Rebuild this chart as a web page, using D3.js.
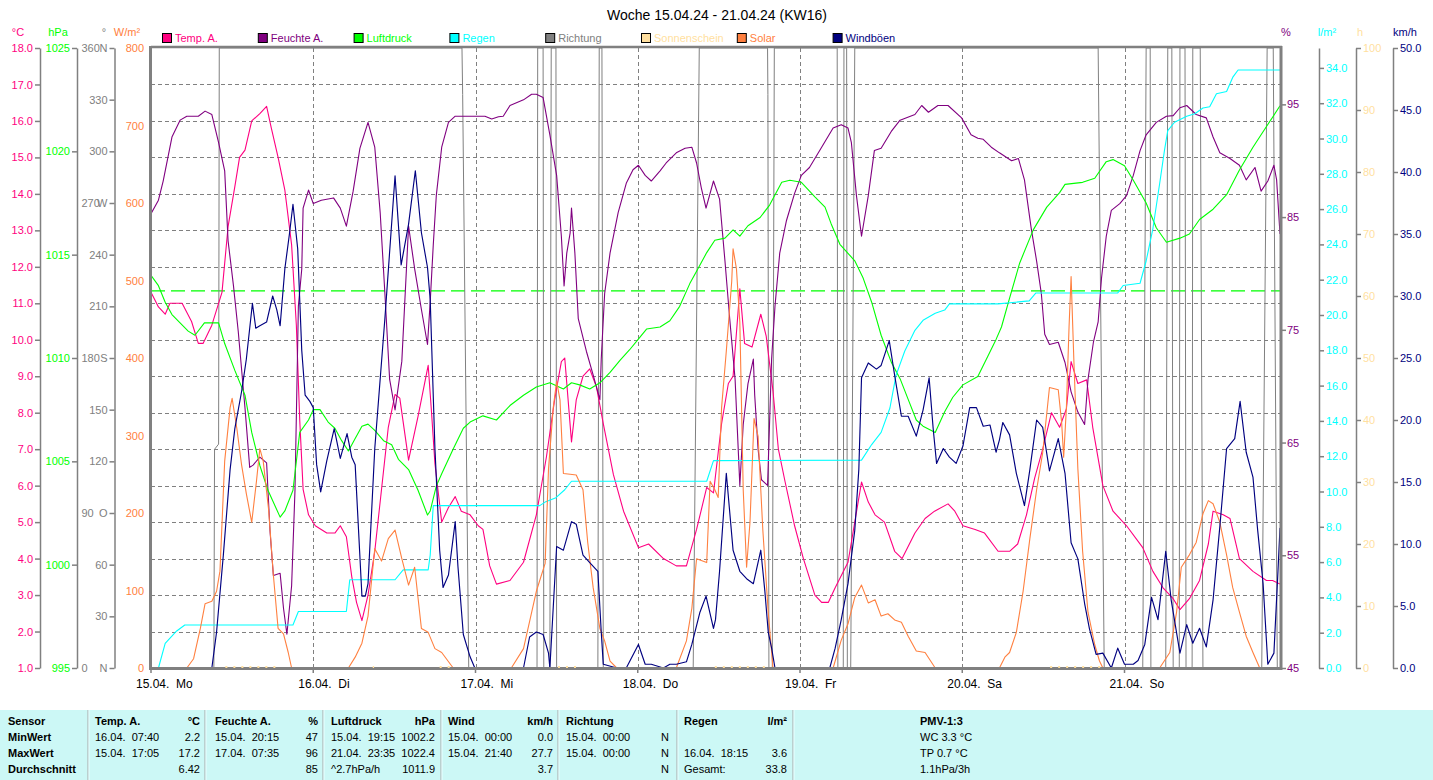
<!DOCTYPE html>
<html><head><meta charset="utf-8">
<script src="https://cdn.jsdelivr.net/npm/d3@7/dist/d3.min.js"></script>
<style>
html,body{margin:0;padding:0;background:#fff;}
svg text{font-family:"Liberation Sans",Arial,sans-serif;}
</style></head>
<body><svg id="chart" width="1433" height="780"></svg>
<script>
// ---------------- DATA (hours since 15.04. 00:00, value) ----------------
const title = "Woche 15.04.24 - 21.04.24 (KW16)";
const dayLabels = ["15.04.  Mo","16.04.  Di","17.04.  Mi","18.04.  Do","19.04.  Fr","20.04.  Sa","21.04.  So"];
const legendNames = ["Temp. A.","Feuchte A.","Luftdruck","Regen","Richtung","Sonnenschein","Solar","Windböen"];

const temp = [[0,11.3],[1.1,10.9],[2.1,10.7],[2.8,11.0],[3.8,11.0],[4.6,11.0],[6.0,10.5],[7.0,9.9],[7.7,9.9],[9.0,10.4],[10.5,11.3],[11.4,13.1],[12.4,14.2],[13.1,15.0],[13.9,15.2],[14.9,16.0],[16.1,16.2],[17.1,16.4],[17.8,15.8],[18.8,15.0],[19.8,14.1],[20.8,12.6],[21.5,10.4],[22.0,7.8],[22.5,5.9],[23.3,5.2],[24.3,4.9],[26.0,4.7],[27.2,4.7],[28.0,4.9],[28.9,4.6],[29.7,3.5],[30.4,2.8],[31.2,2.3],[32.1,3.0],[33.1,4.2],[34.1,5.9],[35.1,7.6],[36.1,8.5],[36.8,8.4],[38.1,6.7],[39.5,7.9],[41.0,9.3],[41.5,8.0],[42.0,6.6],[43.0,5.0],[44.0,5.4],[45.0,5.7],[45.9,5.3],[47.2,5.2],[48.4,4.9],[49.1,4.8],[50.1,3.8],[51.1,3.3],[53.1,3.4],[55.1,3.9],[57.0,5.2],[58.5,6.8],[59.7,8.35],[60.7,9.4],[61.2,9.5],[62.2,7.2],[62.9,8.35],[63.9,9.0],[64.9,9.2],[65.9,8.7],[66.9,7.7],[68.4,6.3],[69.9,5.3],[72.1,4.3],[73.6,4.4],[75.8,4.0],[77.7,3.8],[79.2,3.8],[80.7,4.8],[82.2,5.95],[83.2,5.8],[84.4,7.7],[85.4,8.8],[86.1,9.0],[87.1,11.4],[87.8,9.9],[88.9,9.8],[90.2,10.7],[91.0,10.1],[92.0,8.6],[92.8,7.0],[93.8,6.1],[95.2,4.9],[96.5,4.0],[98.2,3.0],[99.2,2.8],[100.2,2.8],[101.2,3.2],[103.1,3.9],[104.1,5.0],[105.1,6.1],[106.1,5.55],[107.1,5.2],[108.5,5.0],[110.0,4.2],[111.1,4.0],[113.0,4.7],[114.5,5.1],[115.9,5.3],[117.9,5.5],[118.9,5.3],[120.1,4.9],[121.9,4.8],[123.3,4.7],[125.3,4.2],[127.0,4.2],[128.2,4.4],[129.5,5.2],[130.7,6.2],[131.9,7.0],[133.2,8.0],[134.4,7.6],[135.4,8.1],[136.1,9.4],[137.1,8.8],[138.4,8.9],[139.3,7.6],[140.8,6.0],[142.3,5.3],[144.3,4.9],[146.7,4.3],[148.2,3.65],[149.7,3.2],[151.2,2.9],[152.2,2.6],[153.6,2.9],[155.1,3.4],[156.4,4.4],[157.1,5.3],[158.6,5.2],[159.6,5.1],[161.0,4.0],[163.0,3.65],[165.0,3.4],[165.9,3.4],[167,3.3]];

const humidity = [[0,85.3],[1.1,86.5],[1.8,88.2],[3.1,92.1],[4.3,93.6],[5.3,93.95],[7.0,93.95],[8.0,94.4],[9.0,94.1],[10.0,91.6],[10.9,89.1],[11.4,82.9],[12.2,78.9],[12.9,74.9],[13.9,68.1],[14.6,62.8],[15.1,63.0],[16.1,63.7],[17.1,63.2],[17.6,57.2],[18.1,53.2],[19.1,53.4],[19.6,50.3],[20.1,48.0],[20.8,52.3],[21.3,60.8],[21.8,77.1],[22.3,80.4],[22.5,85.8],[23.3,87.4],[24.0,86.2],[25.2,86.5],[27.0,86.7],[28.0,85.8],[28.9,84.2],[29.9,87.3],[30.9,91.1],[32.1,93.4],[33.1,91.2],[33.9,85.4],[34.6,78.2],[35.3,70.6],[36.1,67.9],[37.1,72.2],[37.8,80.6],[38.1,84.2],[39.0,80.4],[40.0,76.8],[40.9,73.7],[41.3,77.5],[41.75,82.5],[42.2,86.9],[43.0,91.2],[44.0,93.4],[45.0,93.95],[49.4,93.95],[50.4,93.7],[51.4,93.9],[52.1,93.95],[53.1,94.9],[55.1,95.4],[56.3,95.9],[57.0,95.9],[58.0,95.6],[59.0,92.3],[60.0,88.7],[60.7,83.3],[61.1,78.9],[61.5,81.8],[62.0,83.6],[62.2,85.8],[62.7,81.8],[63.2,76.0],[64.4,73.1],[65.4,71.0],[66.4,68.8],[66.6,72.4],[67.1,78.2],[67.9,81.8],[69.1,85.4],[70.3,88.0],[71.3,89.2],[72.1,89.6],[73.1,88.7],[74.0,88.2],[75.3,89.1],[76.2,89.8],[77.7,90.7],[79.0,91.1],[80.0,91.2],[80.7,89.8],[81.4,87.6],[82.1,85.8],[83.2,88.2],[84.1,86.6],[84.9,81.1],[85.6,76.0],[86.4,70.6],[87.1,61.2],[87.6,66.6],[88.3,70.2],[89.1,72.4],[89.3,69.2],[89.8,64.4],[90.3,61.7],[91.2,61.2],[91.8,72.4],[92.3,77.1],[93.0,81.8],[94.0,84.7],[95.2,87.1],[96.2,88.7],[97.4,89.4],[99.2,91.2],[100.9,92.9],[102.1,93.2],[103.1,92.9],[103.6,91.6],[104.35,86.9],[105.1,83.3],[106.1,86.9],[107.0,90.9],[108.0,91.1],[109.5,92.6],[110.8,93.6],[113.0,94.1],[114.0,94.9],[115.0,94.3],[116.4,94.9],[117.9,94.9],[119.9,93.8],[121.3,92.3],[122.3,92.0],[123.1,91.9],[124.3,91.2],[125.5,90.7],[127.3,90.0],[128.3,90.2],[129.2,88.3],[130.2,84.0],[131.0,81.1],[131.7,78.2],[132.2,74.6],[132.9,73.7],[134.2,73.9],[135.2,72.1],[136.1,69.5],[137.1,67.7],[138.1,66.6],[138.6,70.6],[139.4,73.9],[140.1,75.7],[140.6,79.6],[141.3,83.3],[142.05,85.6],[143.3,86.2],[144.3,86.9],[145.3,88.7],[146.3,90.9],[147.2,92.3],[148.7,93.4],[150.2,93.95],[151.2,94.0],[152.2,94.7],[153.2,94.9],[154.6,94.1],[156.1,93.8],[157.1,92.1],[158.1,90.7],[159.6,90.2],[161.0,89.6],[162.0,88.3],[163.3,89.4],[164.2,87.3],[165.2,88.2],[166.1,89.6],[166.5,88.3],[167,83.5]];

const pressure = [[0,1014.0],[1.1,1013.5],[2.1,1012.7],[3.1,1012.1],[4.3,1011.7],[5.5,1011.3],[6.5,1011.1],[7.9,1011.7],[9.0,1011.7],[10.0,1011.7],[10.9,1010.7],[12.4,1009.4],[13.9,1008.2],[14.9,1006.4],[16.1,1004.8],[17.3,1003.6],[19.1,1002.3],[19.8,1002.6],[21.0,1003.6],[22.0,1006.4],[23.3,1007.0],[24.0,1007.5],[25.0,1007.5],[26.2,1006.9],[27.2,1006.6],[28.2,1006.0],[29.2,1005.5],[30.2,1006.1],[31.2,1006.7],[32.1,1006.8],[33.1,1006.5],[34.4,1006.0],[35.6,1005.8],[36.6,1005.1],[38.1,1004.6],[39.5,1003.6],[40.9,1002.4],[41.3,1002.6],[42.2,1003.8],[43.0,1004.4],[44.7,1005.6],[46.2,1006.6],[47.2,1006.9],[49.1,1007.2],[51.1,1007.0],[53.1,1007.7],[55.1,1008.2],[57.0,1008.6],[59.0,1008.8],[61.0,1008.5],[62.2,1008.8],[63.4,1008.7],[64.9,1008.5],[66.4,1008.8],[67.9,1009.3],[69.4,1009.9],[70.8,1010.4],[72.3,1011.0],[73.3,1011.4],[75.3,1011.5],[76.75,1011.8],[78.2,1012.5],[79.7,1013.6],[80.7,1014.2],[82.2,1015.1],[83.4,1015.7],[84.9,1015.8],[86.1,1016.2],[87.1,1015.9],[88.3,1016.4],[90.1,1016.8],[91.5,1017.4],[93.3,1018.5],[94.5,1018.6],[96.2,1018.5],[98.2,1017.8],[99.7,1017.3],[100.6,1016.5],[101.9,1015.5],[104.1,1014.7],[105.3,1013.9],[106.6,1012.7],[108.0,1011.1],[109.5,1009.8],[110.8,1009.0],[112.0,1008.0],[113.2,1007.0],[114.2,1006.7],[116.0,1006.4],[117.4,1007.4],[118.6,1008.1],[120.1,1008.7],[122.3,1009.1],[123.8,1010.1],[125.0,1010.9],[125.8,1011.5],[127.0,1012.9],[128.5,1014.6],[130.5,1016.2],[132.5,1017.3],[134.4,1018.0],[135.2,1018.4],[137.8,1018.5],[139.6,1018.7],[141.3,1019.5],[142.3,1019.6],[144.0,1019.3],[145.3,1018.6],[147.2,1017.5],[148.7,1016.3],[150.2,1015.6],[152.2,1015.8],[153.6,1016.0],[155.1,1016.7],[157.1,1017.2],[159.1,1017.9],[161.0,1019.1],[163.0,1020.2],[165.0,1021.2],[167,1022.2]];
const pressureRef = 1013.25;

const rain = [[0,0],[1.1,0],[2.1,1.4],[3.8,2.1],[5.0,2.44],[21.0,2.44],[21.8,3.2],[28.9,3.2],[29.4,5.0],[36.1,5.0],[37.3,5.56],[41.0,5.56],[41.3,6.4],[41.75,9.2],[57.5,9.2],[58.3,9.4],[59.9,9.65],[61.2,10.1],[62.2,10.58],[82.2,10.58],[83.2,11.75],[105.1,11.78],[106.6,12.66],[108.0,13.35],[109.3,14.73],[110.2,16.58],[111.5,17.96],[113.0,19.13],[114.2,19.7],[116.0,20.1],[117.4,20.28],[118.1,20.63],[125.3,20.63],[129.9,20.8],[130.9,21.25],[143.0,21.25],[143.8,21.67],[146.3,21.8],[147.2,23.06],[148.2,24.9],[149.2,27.45],[149.9,29.3],[150.4,30.45],[151.4,30.92],[153.2,31.26],[154.4,31.4],[155.6,31.73],[156.6,31.8],[157.6,32.54],[159.1,32.66],[160.0,33.46],[160.8,33.88],[167,33.88]];

const direction = [[0,0],[9.3,0],[9.4,127],[10.0,130],[10.1,360],[46.0,360],[46.1,333],[47.0,0],[57.1,0],[57.2,360],[58.0,360],[58.1,0],[59.0,0],[59.2,360],[59.9,360],[60.0,0],[66.1,0],[66.3,360],[66.7,360],[66.9,0],[80.2,0],[81.1,360],[91.2,360],[91.25,333],[91.4,0],[91.9,0],[92.2,360],[101.5,360],[101.6,0],[102.4,0],[102.5,360],[102.9,360],[103.0,0],[103.5,0],[104.1,360],[140.1,360],[141.0,0],[146.7,0],[147.2,360],[147.8,360],[147.9,0],[150.1,0],[150.4,360],[151.0,360],[151.2,0],[152.1,0],[152.2,360],[152.95,360],[153.1,0],[154.0,0],[154.1,360],[155.2,360],[155.6,0],[164.3,0],[165.1,360],[166.0,360],[166.6,0],[167,0]];

// Sonnenschein: 0 h throughout; periods where the (zero) line is drawn
const sunshine = [[11.0,0],[19.1,0],[null,null],[32.8,0],[33.0,0],[null,null],[42.7,0],[44.7,0],[null,null],[60.2,0],[63.0,0],[null,null],[83.4,0],[91.3,0],[null,null],[133.0,0],[140.4,0]];

const solar = [[0,0],[5.3,0],[6.3,12],[7.3,51],[8.0,83],[9.0,86],[9.7,99],[10.2,125],[10.9,267],[11.7,336],[12.0,348],[12.7,309],[13.4,262],[14.1,225],[14.9,188],[15.6,241],[16.1,283],[16.6,267],[17.4,204],[18.1,120],[18.8,51],[19.6,44],[20.3,20],[20.8,0],[29.2,0],[30.2,14],[31.2,32],[32.1,67],[33.1,154],[34.1,138],[35.1,167],[36.1,178],[37.1,141],[38.1,107],[39.0,130],[40.0,51],[41.0,46],[42.0,25],[43.0,20],[44.7,0],[53.3,0],[55.1,25],[57.0,99],[58.3,135],[58.8,257],[59.5,336],[60.0,370],[60.5,346],[61.0,251],[62.0,250],[62.9,249],[63.9,230],[64.6,162],[65.4,104],[66.4,51],[67.1,35],[67.9,9],[68.9,0],[77.7,0],[79.2,35],[80.0,77],[80.7,141],[82.2,136],[82.7,241],[83.4,230],[83.9,220],[84.4,336],[85.1,409],[85.9,499],[86.1,541],[86.6,515],[87.1,446],[87.6,230],[88.1,130],[88.6,188],[89.2,322],[89.8,299],[90.5,178],[91.3,72],[92.0,0],[100.9,0],[102.1,36],[103.1,57],[104.1,91],[105.1,107],[106.1,84],[107.1,88],[108.0,67],[109.0,70],[110.0,62],[111.0,59],[112.0,41],[113.2,22],[114.5,20],[116.0,0],[125.5,0],[126.3,14],[127.0,20],[128.0,46],[129.0,99],[130.0,167],[131.0,230],[131.9,278],[132.9,362],[134.2,359],[134.7,317],[135.0,272],[135.4,335],[135.8,441],[136.1,505],[136.5,399],[137.1,257],[137.8,151],[138.6,72],[139.6,30],[140.3,9],[140.8,0],[149.2,0],[150.7,20],[151.7,72],[152.4,130],[153.6,146],[154.6,162],[155.6,199],[156.4,216],[157.1,212],[158.1,188],[159.1,146],[160.0,104],[161.0,72],[162.0,41],[163.0,20],[164.0,0],[167,0]];

const wind = [[0,0],[9.0,0],[9.7,2.9],[10.7,9.1],[11.7,16.0],[12.4,19.3],[13.4,22.3],[14.1,24.9],[15.0,29.4],[15.5,27.4],[16.1,27.6],[17.1,27.9],[18.0,30.0],[18.6,28.9],[19.1,27.6],[19.8,32.2],[20.5,35.1],[21.0,37.4],[21.7,33.8],[22.3,25.6],[22.8,22.0],[23.5,21.5],[24.0,21.0],[24.5,16.4],[25.1,14.2],[26.0,16.7],[27.1,19.3],[28.0,16.9],[29.0,18.9],[29.7,17.0],[30.2,16.4],[31.2,5.8],[31.7,5.8],[32.1,6.8],[33.1,17.7],[34.6,28.2],[36.1,39.7],[37.0,32.5],[38.1,35.8],[39.1,40.1],[40.0,35.1],[40.9,32.3],[41.3,29.7],[42.0,17.7],[42.7,9.5],[43.2,6.5],[44.0,7.5],[45.0,11.8],[45.4,8.2],[46.2,2.7],[47.2,0.9],[47.9,0],[55.1,0],[56.0,2.5],[57.0,2.9],[58.0,2.7],[58.8,1.2],[59.0,0],[60.0,9.8],[61.0,9.5],[62.2,11.8],[62.9,11.6],[63.9,9.1],[64.9,8.5],[66.1,7.8],[66.6,2.9],[66.9,0.3],[68.9,0],[70.3,0],[72.1,1.9],[73.1,0.3],[74.0,0.3],[75.8,0],[76.75,0.3],[77.7,0.3],[79.2,0.5],[80.0,1.9],[81.2,4.5],[82.1,5.8],[83.2,3.2],[83.5,3.9],[84.1,7.8],[85.1,15.7],[86.1,9.5],[87.1,7.8],[88.1,7.2],[89.1,6.8],[90.2,9.5],[90.8,6.2],[91.3,2.9],[91.8,1.6],[92.3,0],[100.4,0],[101.2,1.6],[102.1,3.9],[103.1,6.8],[104.1,11.1],[104.7,16.0],[105.1,23.4],[106.1,24.6],[107.3,24.1],[108.0,24.4],[109.2,26.4],[110.0,23.6],[111.0,20.3],[112.0,20.3],[113.2,18.7],[114.2,20.8],[115.1,23.4],[115.7,19.3],[116.2,16.5],[117.2,17.7],[118.1,17.0],[119.1,16.5],[120.1,17.9],[121.1,21.0],[122.1,21.0],[123.1,19.5],[124.1,19.6],[125.0,17.4],[125.5,18.4],[126.0,19.8],[127.0,18.8],[128.0,15.7],[129.2,13.1],[130.0,16.0],[131.0,20.0],[131.9,19.4],[132.9,15.9],[134.2,18.5],[135.2,15.7],[136.1,10.1],[137.1,8.8],[138.1,5.2],[138.8,3.2],[139.8,1.1],[140.8,1.2],[142.05,0],[143.0,1.6],[144.0,0.3],[145.3,0.3],[146.0,0.6],[147.0,1.9],[148.0,5.7],[148.95,3.9],[150.1,9.4],[150.9,5.5],[152.2,1.2],[153.2,3.5],[154.1,2.0],[155.1,3.2],[156.1,1.7],[157.1,5.5],[158.1,11.4],[159.1,17.7],[160.3,18.5],[161.1,21.5],[162.0,17.4],[163.0,15.4],[163.7,11.1],[164.5,6.8],[165.2,0.3],[166.1,1.2],[166.7,7.8],[167,11.3]];

// axis tick values
const tempTicks = d3.range(1, 18.01, 1);
const pressTicks = [995,1000,1005,1010,1015,1020,1025];
const dirTicks = [0,30,60,90,120,150,180,210,240,270,300,330,360];
const dirLetters = {0:"N",90:"O",180:"S",270:"W",360:"N"};
const solarTicks = [0,100,200,300,400,500,600,700,800];
const humTicks = [45,55,65,75,85,95];
const rainTicks = d3.range(0, 34.01, 2);
const sunTicks = d3.range(0, 100.01, 10);
const windTicks = d3.range(0, 50.01, 5);

// table
const tableHeader = [["Sensor",""],["Temp. A.","°C"],["Feuchte A.","%"],["Luftdruck","hPa"],["Wind","km/h"],["Richtung",""],["Regen","l/m²"]];
const tableRows = [
  ["MinWert", ["16.04.  07:40","2.2"],["15.04.  20:15","47"],["15.04.  19:15","1002.2"],["15.04.  00:00","0.0"],["15.04.  00:00","N"],["",""]],
  ["MaxWert", ["15.04.  17:05","17.2"],["17.04.  07:35","96"],["21.04.  23:35","1022.4"],["15.04.  21:40","27.7"],["15.04.  00:00","N"],["16.04.  18:15","3.6"]],
  ["Durchschnitt", ["","6.42"],["","85"],["^2.7hPa/h","1011.9"],["","3.7"],["","N"],["Gesamt:","33.8"]]
];
const pmvTitle = "PMV-1:3";
const pmvLines = ["WC 3.3 °C","TP 0.7 °C","1.1hPa/3h"];

// ---------------- STYLE / LAYOUT ----------------
const C = {temp:"#ff0080", hum:"#800080", press:"#00ff00", rain:"#00ffff", dir:"#808080", sun:"#ffdf9f", solar:"#ff8040", wind:"#000080"};
const legendColors = [C.temp,C.hum,C.press,C.rain,C.dir,C.sun,C.solar,C.wind];
const X0=151, X1=1280, Y0=48, Y1=668;
const FONT='"Liberation Sans",Arial,sans-serif';
const svg = d3.select("#chart");

const x = d3.scaleLinear().domain([0,167]).range([X0,X1]);
const yT = d3.scaleLinear().domain([1,18]).range([Y1,Y0]);
const yP = d3.scaleLinear().domain([995,1025]).range([Y1,Y0]);
const yD = d3.scaleLinear().domain([0,360]).range([Y1,Y0]);
const yS = d3.scaleLinear().domain([0,800]).range([Y1,Y0]);
const yH = d3.scaleLinear().domain([45,100]).range([Y1,Y0]);
const yR = d3.scaleLinear().domain([0,620/17.65]).range([Y1,Y0]);
const ySun = d3.scaleLinear().domain([0,100]).range([Y1,Y0]);
const yW = d3.scaleLinear().domain([0,50]).range([Y1,Y0]);

// title
svg.append("text").attr("x",717).attr("y",20).attr("text-anchor","middle")
  .attr("font-size",14).attr("fill","#000").text(title);

// legend
legendNames.forEach((n,i)=>{
  const lx = 162 + i*95.8;
  svg.append("rect").attr("x",lx+0.5).attr("y",33.5).attr("width",9).attr("height",9)
    .attr("fill",legendColors[i]).attr("stroke","#000").attr("stroke-width",1);
  svg.append("text").attr("x",lx+13).attr("y",42).attr("font-size",11).attr("fill",legendColors[i]).text(n);
});

// grid
const grid = svg.append("g");
tempTicks.filter(v=>v>1 && v<18).forEach(v=>{
  grid.append("line").attr("x1",X0).attr("x2",X1).attr("y1",Math.round(yT(v))+0.5).attr("y2",Math.round(yT(v))+0.5)
    .attr("stroke","#808080").attr("stroke-dasharray","4,3");
});
d3.range(1,7).forEach(d=>{
  grid.append("line").attr("y1",Y0).attr("y2",Y1).attr("x1",Math.round(x(d*24))+0.5).attr("x2",Math.round(x(d*24))+0.5)
    .attr("stroke","#808080").attr("stroke-dasharray","4,3");
});
// reference pressure line
grid.append("line").attr("x1",X0).attr("x2",X1).attr("y1",yP(pressureRef)).attr("y2",yP(pressureRef))
  .attr("stroke",C.press).attr("stroke-width",1.3).attr("stroke-dasharray","14,6");

// clip
svg.append("clipPath").attr("id","clip").append("rect").attr("x",X0).attr("y",Y0-1).attr("width",X1-X0).attr("height",Y1-Y0+2);
const plot = svg.append("g").attr("clip-path","url(#clip)");
function draw(data, yScale, color, w){
  const line = d3.line().defined(d=>d[0]!==null).x(d=>x(d[0])).y(d=>yScale(d[1]));
  plot.append("path").datum(data).attr("d",line).attr("fill","none").attr("stroke",color)
    .attr("stroke-width",w||1.1).attr("stroke-linejoin","round");
}
draw(direction, yD, C.dir, 1);
draw(temp, yT, C.temp);
draw(humidity, yH, C.hum);
draw(pressure, yP, C.press);
draw(rain, yR, C.rain);
draw(solar, yS, C.solar);
draw(wind, yW, C.wind, 1.15);

// frame
svg.append("line").attr("x1",X0).attr("x2",1282).attr("y1",Y0-1).attr("y2",Y0-1).attr("stroke","#808080").attr("stroke-width",2.5);
svg.append("line").attr("x1",X0-1).attr("x2",1282).attr("y1",Y1+0.5).attr("y2",Y1+0.5).attr("stroke","#808080").attr("stroke-width",3);
svg.append("line").attr("x1",X0-0.5).attr("x2",X0-0.5).attr("y1",Y0-2).attr("y2",Y1+2).attr("stroke","#808080").attr("stroke-width",3);
svg.append("line").attr("x1",1281).attr("x2",1281).attr("y1",Y0-2).attr("y2",Y1+2).attr("stroke","#808080").attr("stroke-width",3);

// sunshine (zero) dots on the bottom
const sunLine = d3.line().defined(d=>d[0]!==null).x(d=>x(d[0])).y(d=>ySun(d[1])-1);
svg.append("path").datum(sunshine).attr("d",sunLine).attr("fill","none").attr("stroke",C.sun)
  .attr("stroke-width",2).attr("stroke-dasharray","2,6");

// x axis ticks + labels
d3.range(0,7).forEach(d=>{
  const xx = x(d*24);
  svg.append("line").attr("x1",xx).attr("x2",xx).attr("y1",Y1).attr("y2",Y1+5).attr("stroke","#808080").attr("stroke-width",1.5);
  svg.append("text").attr("x",xx-15).attr("y",688).attr("font-size",12).attr("fill","#000")
    .style("white-space","pre").text(dayLabels[d]);
});

// axes
function styleAxis(g, color){
  g.attr("font-family",FONT).attr("font-size",11);
  g.select(".domain").attr("stroke","#808080").attr("stroke-width",1.5);
  g.selectAll(".tick line").attr("stroke","#808080").attr("stroke-width",1.5);
  g.selectAll(".tick text").attr("fill",color);
}
function leftAxis(px, scale, ticks, fmt, color){
  const g = svg.append("g").attr("transform",`translate(${px},0)`)
    .call(d3.axisLeft(scale).tickValues(ticks).tickFormat(fmt).tickSize(5).tickSizeOuter(0).tickPadding(2));
  styleAxis(g,color); return g;
}
function rightAxis(px, scale, ticks, fmt, color){
  const g = svg.append("g").attr("transform",`translate(${px},0)`)
    .call(d3.axisRight(scale).tickValues(ticks).tickFormat(fmt).tickSize(5).tickSizeOuter(0).tickPadding(2));
  styleAxis(g,color); return g;
}
leftAxis(40, yT, tempTicks, d3.format(".1f"), C.temp);
leftAxis(77, yP, pressTicks, d3.format("d"), C.press);
const gd = leftAxis(114.5, yD, dirTicks, d3.format("d"), "#808080");
gd.selectAll(".tick").each(function(v){
  if(dirLetters[v]!==undefined){
    const t = d3.select(this).select("text");
    t.attr("text-anchor","start").attr("x",-33);
    d3.select(this).append("text").attr("x",-7).attr("dy","0.32em").attr("text-anchor","end")
      .attr("fill","#808080").text(dirLetters[v]);
  }
});
const gs = leftAxis(X0, yS, solarTicks, d3.format("d"), C.solar);
gs.select(".domain").remove();
gs.selectAll(".tick line").remove();

const gh = rightAxis(1281, yH, humTicks, d3.format("d"), C.hum);
gh.select(".domain").remove();
gh.selectAll(".tick text").attr("x",6);
rightAxis(1319, yR, rainTicks, d3.format(".1f"), C.rain);
rightAxis(1356, ySun, sunTicks, d3.format("d"), C.sun);
rightAxis(1393, yW, windTicks, d3.format(".1f"), C.wind);

// axis titles
const units = [[18,"°C",C.temp],[58,"hPa",C.press],[104,"°","#808080"],[127,"W/m²",C.solar],
  [1286,"%",C.hum],[1327,"l/m²",C.rain],[1360,"h",C.sun],[1405,"km/h",C.wind]];
units.forEach(u=>svg.append("text").attr("x",u[0]).attr("y",36).attr("text-anchor","middle")
  .attr("font-size",11).attr("fill",u[2]).text(u[1]));

// ---------------- TABLE ----------------
const tb = svg.append("g");
tb.append("rect").attr("x",0).attr("y",710).attr("width",1433).attr("height",70).attr("fill","#ccf8f6");
const seps = [88,205,323,441,558,677,793];
seps.forEach(s=>{
  tb.append("line").attr("x1",s).attr("x2",s).attr("y1",710).attr("y2",780).attr("stroke","#a8a8a8").attr("stroke-width",1);
  tb.append("line").attr("x1",s+1).attr("x2",s+1).attr("y1",710).attr("y2",780).attr("stroke","#e8ffff").attr("stroke-width",1);
});
const colStart = [8,95,215,331,448,566,684];
const colEnd = [0,200,318,435,553,669,787];
const rowY = [725,741,757,773];
tableHeader.forEach((h,i)=>{
  tb.append("text").attr("x",colStart[i]).attr("y",rowY[0]).attr("font-size",11).attr("font-weight","bold").text(h[0]);
  if(h[1]) tb.append("text").attr("x",colEnd[i]).attr("y",rowY[0]).attr("text-anchor","end").attr("font-size",11).attr("font-weight","bold").text(h[1]);
});
tableRows.forEach((r,ri)=>{
  const yy = rowY[ri+1];
  tb.append("text").attr("x",8).attr("y",yy).attr("font-size",11).attr("font-weight","bold").text(r[0]);
  for(let c=1;c<r.length;c++){
    tb.append("text").attr("x",colStart[c]).attr("y",yy).attr("font-size",11).style("white-space","pre").text(r[c][0]);
    tb.append("text").attr("x",colEnd[c]).attr("y",yy).attr("text-anchor","end").attr("font-size",11).text(r[c][1]);
  }
});
tb.append("text").attr("x",920).attr("y",rowY[0]).attr("font-size",11).attr("font-weight","bold").text(pmvTitle);
pmvLines.forEach((t,i)=>tb.append("text").attr("x",920).attr("y",rowY[i+1]).attr("font-size",11).text(t));
</script>
</body></html>
